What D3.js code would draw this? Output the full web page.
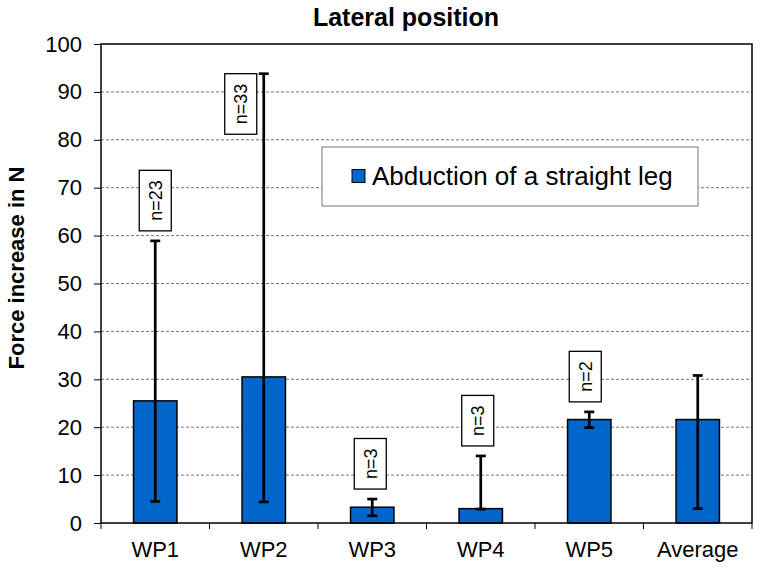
<!DOCTYPE html>
<html><head><meta charset="utf-8">
<script src="https://cdn.jsdelivr.net/npm/d3@7"></script>
<style>body{margin:0;background:#fff}svg{display:block}text{font-family:"Liberation Sans",Arial,sans-serif}</style>
</head><body>
<script>
const categories = ["WP1","WP2","WP3","WP4","WP5","Average"];
const values = [25.5, 30.5, 3.3, 3.0, 21.6, 21.6];
const errLow = [4.5, 4.4, 1.5, 2.9, 19.9, 3.0];
const errHigh = [58.9, 93.8, 5.0, 14.0, 23.2, 30.8];
const nLabels = ["n=23","n=33","n=3","n=3","n=2",""];
const yTicks = [0,10,20,30,40,50,60,70,80,90,100];
const seriesName = "Abduction of a straight leg";
const title = "Lateral position";
const yTitle = "Force increase in N";

const W=760,H=569;
const m={l:101,r:8,t:44,b:46};
const svg=d3.select("body").append("svg").attr("width",W).attr("height",H);
const x=d3.scaleBand().domain(categories).range([m.l,W-m.r]).paddingInner(0).paddingOuter(0);
const y=d3.scaleLinear().domain([0,100]).range([H-m.b,m.t]);

// gridlines
svg.append("g").selectAll("line").data(yTicks.filter(d=>d>0&&d<100)).join("line")
  .attr("x1",m.l).attr("x2",W-m.r).attr("y1",d=>y(d)).attr("y2",d=>y(d))
  .attr("stroke","#777").attr("stroke-width",1).attr("stroke-dasharray","3,2");

// bars
const bw=x.bandwidth()*0.4;
svg.append("g").selectAll("rect").data(categories).join("rect")
  .attr("x",(d)=>x(d)+x.bandwidth()/2-bw/2).attr("width",bw)
  .attr("y",(d,i)=>y(values[i])).attr("height",(d,i)=>y(0)-y(values[i]))
  .attr("fill","#0066cc").attr("stroke","#000").attr("stroke-width",1.5);

// error bars
const eg=svg.append("g").attr("stroke","#000").attr("stroke-width",2.7);
categories.forEach((c,i)=>{
  const cx=x(c)+x.bandwidth()/2;
  eg.append("line").attr("x1",cx).attr("x2",cx).attr("y1",y(errLow[i])).attr("y2",y(errHigh[i]));
  eg.append("line").attr("x1",cx-5).attr("x2",cx+5).attr("y1",y(errLow[i])).attr("y2",y(errLow[i]));
  eg.append("line").attr("x1",cx-5).attr("x2",cx+5).attr("y1",y(errHigh[i])).attr("y2",y(errHigh[i]));
});

// axes frame
svg.append("rect").attr("x",m.l).attr("y",m.t).attr("width",W-m.r-m.l).attr("height",H-m.b-m.t)
  .attr("fill","none").attr("stroke","#000").attr("stroke-width",1.5);

const yAxis=d3.axisLeft(y).tickValues(yTicks).tickSize(7).tickPadding(12);
const ya=svg.append("g").attr("transform",`translate(${m.l},0)`).call(yAxis);
ya.select(".domain").remove();
ya.selectAll("line").attr("stroke","#000").attr("stroke-width",1);
ya.selectAll("text").attr("font-size",22).attr("fill","#000").attr("font-family",'"Liberation Sans",Arial,sans-serif');

// x axis ticks at boundaries
const xa=svg.append("g");
const bounds=categories.map(c=>x(c)).concat([W-m.r]);
xa.selectAll("line").data(bounds).join("line").attr("x1",d=>d).attr("x2",d=>d)
  .attr("y1",H-m.b).attr("y2",H-m.b+6).attr("stroke","#000").attr("stroke-width",1);
xa.selectAll("text").data(categories).join("text")
  .attr("x",d=>x(d)+x.bandwidth()/2).attr("y",H-m.b+34).attr("text-anchor","middle")
  .attr("font-size",22).attr("fill","#000").text(d=>d);

// n labels
const labDx=[0,-23,-2,-3,-4,0];
categories.forEach((c,i)=>{
  if(!nLabels[i]) return;
  const cx=x(c)+x.bandwidth()/2+labDx[i];
  const g=svg.append("g");
  const t=g.append("text").attr("font-size",18).text(nLabels[i]);
  const len=t.node().getComputedTextLength();
  const bh=len+20, bwid=32;
  let bottom;
  if(i===1) bottom=y(errHigh[i])+bh; else bottom=y(errHigh[i])-10;
  g.insert("rect","text").attr("x",cx-bwid/2).attr("y",bottom-bh).attr("width",bwid).attr("height",bh)
    .attr("fill","#fff").attr("stroke","#000").attr("stroke-width",1.3);
  t.attr("transform",`translate(${cx+6.5},${bottom-bh/2}) rotate(-90)`).attr("text-anchor","middle");
});

// legend
const lg=svg.append("g");
lg.append("rect").attr("x",322).attr("y",147).attr("width",376).attr("height",59)
  .attr("fill","#fff").attr("stroke","#777").attr("stroke-width",1);
lg.append("rect").attr("x",352).attr("y",169.5).attr("width",13).attr("height",13)
  .attr("fill","#0066cc").attr("stroke","#000").attr("stroke-width",1);
lg.append("text").attr("x",372).attr("y",185).attr("font-size",26).text(seriesName);

// titles
svg.append("text").attr("x",406).attr("y",26).attr("text-anchor","middle")
  .attr("font-size",25).attr("font-weight","bold").text(title);
svg.append("text").attr("transform",`translate(23.5,268) rotate(-90)`)
  .attr("text-anchor","middle").attr("font-size",22).attr("font-weight","bold").text(yTitle);
</script>
</body></html>
